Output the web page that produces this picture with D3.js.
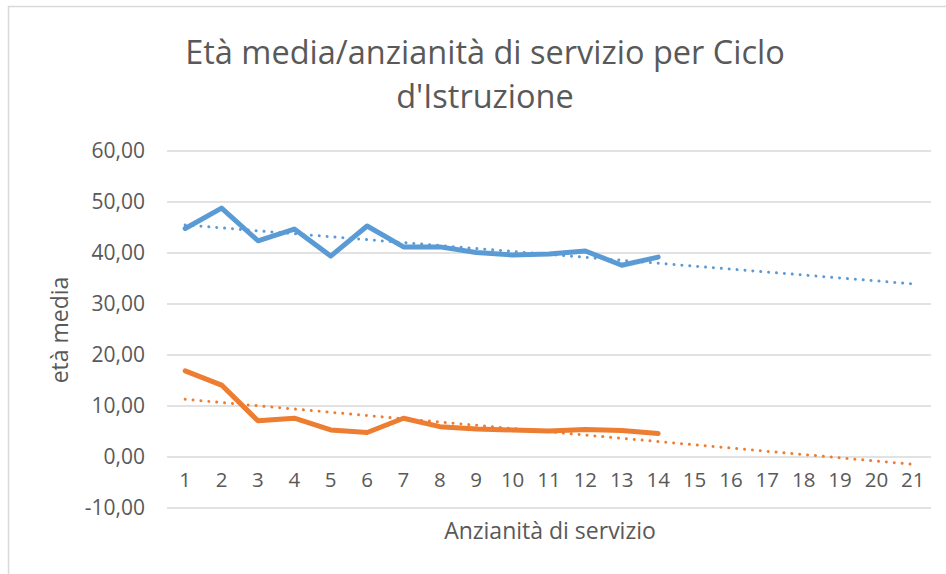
<!DOCTYPE html>
<html>
<head>
<meta charset="utf-8">
<script src="https://cdn.jsdelivr.net/npm/d3@7"></script>
<style>
  body { margin: 0; background: #fff; }
  text { font-family: "Open Sans", sans-serif; fill: #595959; }
</style>
</head>
<body>
<script>
// anni di servizio (categorie dell'asse x)
let categories = d3.range(1, 22).map(String);
// valori (solo 14 anni hanno dati)
let blueValues = [44.8, 48.8, 42.4, 44.7, 39.4, 45.3, 41.2, 41.2, 40.1, 39.6, 39.8, 40.4, 37.6, 39.2];
let orangeValues = [16.9, 14.1, 7.1, 7.6, 5.3, 4.8, 7.6, 5.95, 5.5, 5.3, 5.1, 5.4, 5.2, 4.6];
let yTicks = [-10, 0, 10, 20, 30, 40, 50, 60];

let width = 946, height = 574;
let plotLeft = 167, plotRight = 931, plotTop = 151, plotBottom = 508;

let svg = d3.select('body').append('svg')
            .attr('width', width)
            .attr('height', height);

// chart border
svg.append('rect')
  .attr('x', 8.5).attr('y', 6.5)
  .attr('width', 1000).attr('height', 1000)
  .attr('fill', 'none')
  .attr('stroke', '#d9d9d9')
  .attr('stroke-width', 1.5);

let x = d3.scaleBand()
          .domain(categories)
          .range([plotLeft, plotRight]);
let y = d3.scaleLinear()
          .domain([-10, 60])
          .range([plotBottom, plotTop]);

let fmt = (v) => d3.format('.2f')(v).replace('.', ',').replace('−', '-');

// gridlines
svg.append('g')
  .selectAll('line')
  .data(yTicks)
  .enter()
  .append('line')
  .attr('x1', plotLeft).attr('x2', plotRight)
  .attr('y1', (d) => y(d)).attr('y2', (d) => y(d))
  .attr('stroke', '#d9d9d9')
  .attr('stroke-width', 1.5);

// y labels
svg.append('g')
  .selectAll('text')
  .data(yTicks)
  .enter()
  .append('text')
  .attr('x', 145)
  .attr('y', (d) => y(d))
  .attr('dy', '0.35em')
  .attr('text-anchor', 'end')
  .attr('font-size', 21)
  .text((d) => fmt(d));

// x labels, sitting under the 0 line
svg.append('g')
  .selectAll('text')
  .data(categories)
  .enter()
  .append('text')
  .attr('x', (d) => x(d) + x.bandwidth() / 2)
  .attr('y', y(-4.4))
  .attr('dy', '0.35em')
  .attr('text-anchor', 'middle')
  .attr('font-size', 20.5)
  .text((d) => d);

let cx = (i) => x(categories[i]) + x.bandwidth() / 2;

let line = d3.line()
             .x((d, i) => cx(i))
             .y((d) => y(d));

function trend(values) {
  let xs = values.map((d, i) => i + 1);
  let mx = d3.mean(xs), my = d3.mean(values);
  let sxy = d3.sum(values, (d, i) => (xs[i] - mx) * (d - my));
  let sxx = d3.sum(xs, (v) => (v - mx) * (v - mx));
  let b = sxy / sxx, a = my - b * mx;
  return categories.map((c, i) => a + b * (i + 1));
}

let series = [
  { values: blueValues, color: '#5b9bd5' },
  { values: orangeValues, color: '#ed7d31' }
];

series.forEach((s) => {
  svg.append('path')
    .datum(s.values)
    .attr('d', line)
    .attr('fill', 'none')
    .attr('stroke', s.color)
    .attr('stroke-width', 5)
    .attr('stroke-linejoin', 'round')
    .attr('stroke-linecap', 'round');
});

series.forEach((s) => {
  svg.append('path')
    .datum(trend(s.values))
    .attr('d', line)
    .attr('fill', 'none')
    .attr('stroke', s.color)
    .attr('stroke-width', 3)
    .attr('stroke-dasharray', '0.01 7.9')
    .attr('stroke-linecap', 'round');
});

// title
svg.append('text')
  .attr('text-anchor', 'middle')
  .attr('x', 485).attr('y', 64)
  .attr('font-size', 32.5)
  .text('Età media/anzianità di servizio per Ciclo');
svg.append('text')
  .attr('text-anchor', 'middle')
  .attr('x', 485).attr('y', 108)
  .attr('font-size', 32.5)
  .text("d'Istruzione");

// axis titles
svg.append('text')
  .attr('text-anchor', 'middle')
  .attr('transform', 'translate(60, 330)rotate(-90)')
  .attr('dy', '0.35em')
  .attr('font-size', 23)
  .text('età media');

svg.append('text')
  .attr('text-anchor', 'middle')
  .attr('x', 550).attr('y', 539)
  .attr('font-size', 23)
  .text('Anzianità di servizio');
</script>
</body>
</html>
